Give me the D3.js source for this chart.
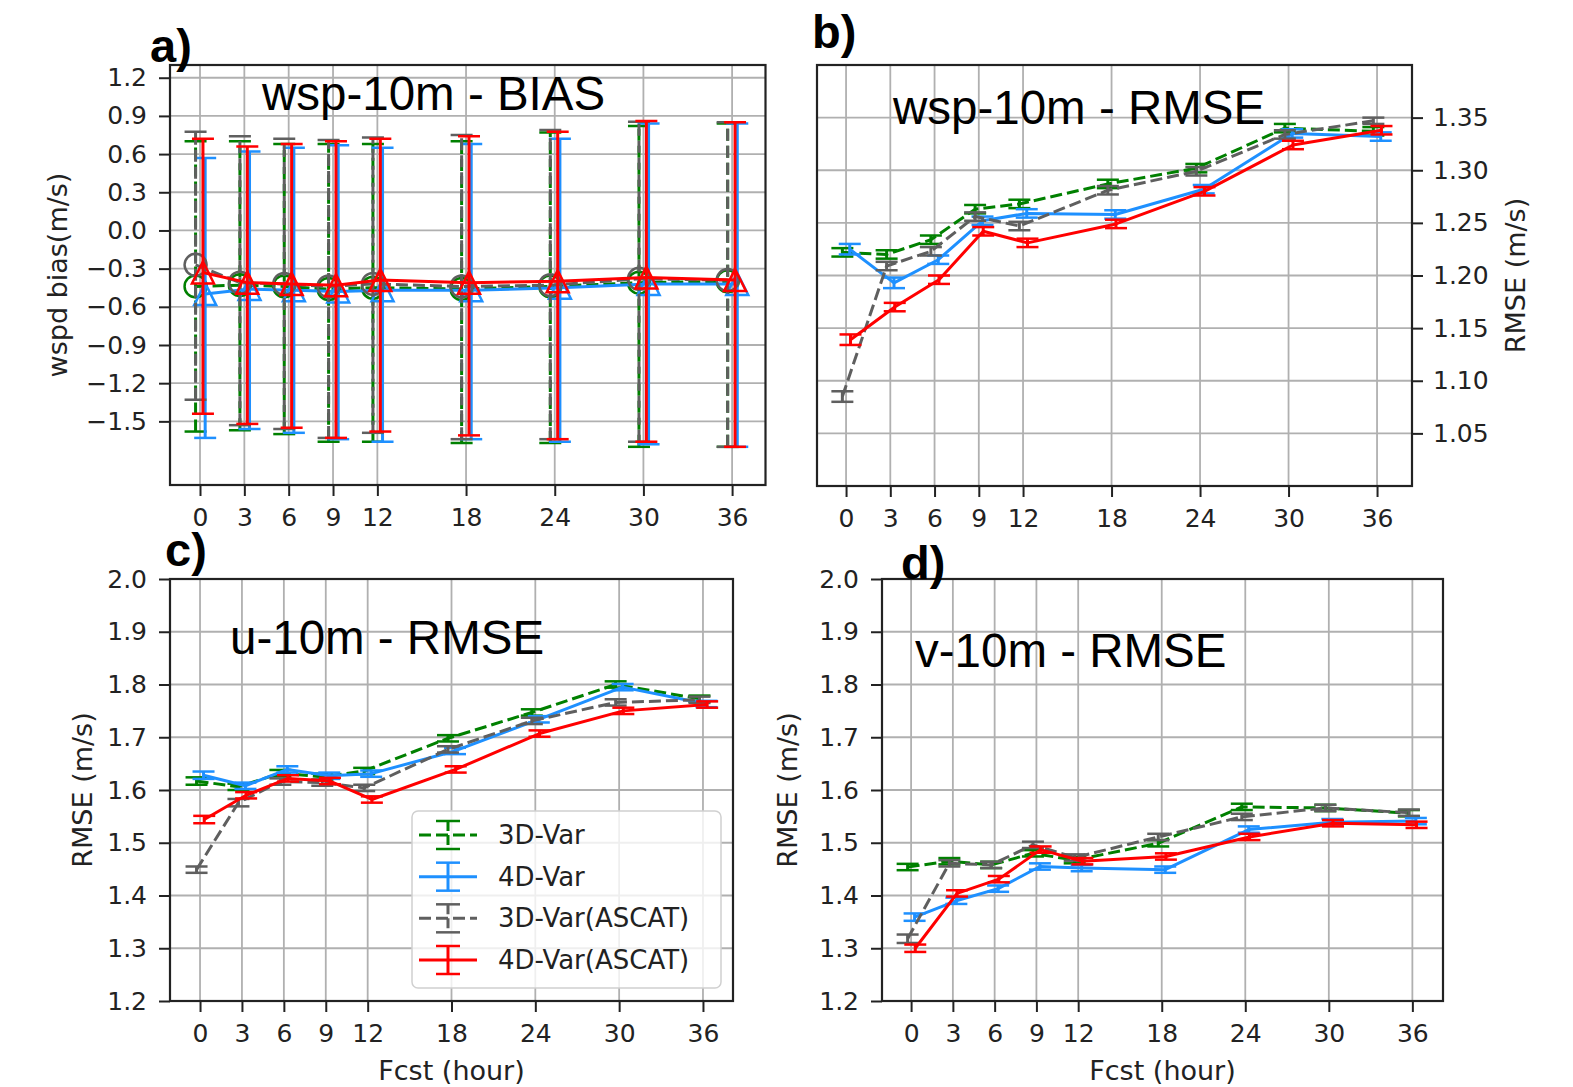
<!DOCTYPE html>
<html>
<head>
<meta charset="utf-8">
<script src="https://cdn.jsdelivr.net/npm/d3@7"></script>
<style>
  html, body { margin: 0; padding: 0; background: #ffffff; }
  svg { display: block; }
</style>
</head>
<body>
<script>
// ---------------- DATA ----------------
const hours = [0, 3, 6, 9, 12, 18, 24, 30, 36];
const seriesNames = ["3D-Var", "4D-Var", "3D-Var(ASCAT)", "4D-Var(ASCAT)"];
const seriesColors = ["#008000", "#1e90ff", "#5f5f5f", "#ff0000"];
const seriesDashed = [true, false, true, false];
const seriesMarkers = ["circle", "triangle", "circle", "triangle"];
const biasOffsets = [-0.3, 0.35, -0.3, 0.2];
const rmseOffsets = [-0.25, 0.25, -0.25, 0.3];

// a) wsp-10m BIAS: mean, upper and lower error-bar ends
const biasMean3D     = [-0.44, -0.43, -0.44, -0.46, -0.45, -0.46, -0.44, -0.41, -0.40];
const biasMean4D     = [-0.50, -0.46, -0.47, -0.48, -0.47, -0.47, -0.45, -0.42, -0.42];
const biasMean3DA    = [-0.27, -0.41, -0.42, -0.44, -0.42, -0.44, -0.43, -0.38, -0.39];
const biasMean4DA    = [-0.33, -0.41, -0.42, -0.43, -0.39, -0.41, -0.40, -0.37, -0.39];
const biasHi3D       = [0.70, 0.70, 0.68, 0.68, 0.68, 0.70, 0.77, 0.82, 0.84];
const biasHi4D       = [0.57, 0.62, 0.65, 0.67, 0.65, 0.68, 0.72, 0.84, 0.84];
const biasHi3DA      = [0.775, 0.74, 0.72, 0.71, 0.73, 0.75, 0.79, 0.855, 0.85];
const biasHi4DA      = [0.72, 0.66, 0.68, 0.70, 0.72, 0.74, 0.775, 0.86, 0.85];
const biasLo3D       = [-1.58, -1.57, -1.60, -1.66, -1.66, -1.67, -1.67, -1.70, -1.70];
const biasLo4D       = [-1.63, -1.56, -1.59, -1.64, -1.66, -1.64, -1.66, -1.68, -1.70];
const biasLo3DA      = [-1.33, -1.53, -1.56, -1.63, -1.59, -1.64, -1.64, -1.66, -1.70];
const biasLo4DA      = [-1.44, -1.52, -1.55, -1.63, -1.58, -1.61, -1.64, -1.66, -1.70];

// b) wsp-10m RMSE
const wspRmse3D  = [1.222, 1.220, 1.234, 1.263, 1.268, 1.287, 1.302, 1.340, 1.337];
const wspRmse4D  = [1.225, 1.193, 1.215, 1.252, 1.259, 1.258, 1.282, 1.335, 1.332];
const wspRmse3DA = [1.085, 1.209, 1.223, 1.256, 1.247, 1.281, 1.299, 1.334, 1.347];
const wspRmse4DA = [1.139, 1.170, 1.196, 1.242, 1.231, 1.249, 1.280, 1.324, 1.338];
const wspErr3D   = [0.004, 0.004, 0.004, 0.004, 0.004, 0.004, 0.004, 0.004, 0.004];
const wspErr4D   = [0.005, 0.005, 0.004, 0.004, 0.004, 0.004, 0.004, 0.004, 0.004];
const wspErr3DA  = [0.005, 0.004, 0.004, 0.004, 0.004, 0.004, 0.004, 0.004, 0.003];
const wspErr4DA  = [0.005, 0.004, 0.004, 0.004, 0.004, 0.004, 0.004, 0.004, 0.004];

// c) u-10m RMSE
const uRmse3D  = [1.617, 1.606, 1.632, 1.625, 1.636, 1.698, 1.747, 1.800, 1.773];
const uRmse4D  = [1.628, 1.608, 1.639, 1.627, 1.631, 1.674, 1.734, 1.795, 1.763];
const uRmse3DA = [1.449, 1.576, 1.616, 1.614, 1.604, 1.677, 1.731, 1.766, 1.771];
const uRmse4DA = [1.544, 1.590, 1.622, 1.617, 1.582, 1.639, 1.707, 1.750, 1.762];
const uErr3D   = [0.007, 0.006, 0.006, 0.006, 0.006, 0.006, 0.006, 0.006, 0.006];
const uErr4D   = [0.007, 0.006, 0.006, 0.006, 0.006, 0.006, 0.006, 0.006, 0.006];
const uErr3DA  = [0.006, 0.007, 0.006, 0.006, 0.006, 0.006, 0.006, 0.006, 0.006];
const uErr4DA  = [0.007, 0.006, 0.006, 0.006, 0.006, 0.006, 0.006, 0.006, 0.006];

// d) v-10m RMSE
const vRmse3D  = [1.454, 1.465, 1.458, 1.480, 1.467, 1.499, 1.568, 1.566, 1.556];
const vRmse4D  = [1.359, 1.390, 1.413, 1.455, 1.452, 1.449, 1.525, 1.539, 1.541];
const vRmse3DA = [1.318, 1.461, 1.458, 1.496, 1.472, 1.511, 1.549, 1.566, 1.557];
const vRmse4DA = [1.300, 1.404, 1.431, 1.487, 1.465, 1.474, 1.511, 1.537, 1.534];
const vErr3D   = [0.006, 0.006, 0.006, 0.006, 0.006, 0.006, 0.006, 0.006, 0.006];
const vErr4D   = [0.007, 0.006, 0.006, 0.006, 0.006, 0.006, 0.006, 0.006, 0.006];
const vErr3DA  = [0.008, 0.006, 0.006, 0.006, 0.006, 0.006, 0.006, 0.006, 0.006];
const vErr4DA  = [0.007, 0.006, 0.006, 0.006, 0.006, 0.006, 0.006, 0.006, 0.006];

// tick labels
const biasYTicks = [1.2, 0.9, 0.6, 0.3, 0.0, -0.3, -0.6, -0.9, -1.2, -1.5];
const wspYTicks  = [1.05, 1.10, 1.15, 1.20, 1.25, 1.30, 1.35];
const uvYTicks   = [1.2, 1.3, 1.4, 1.5, 1.6, 1.7, 1.8, 1.9, 2.0];

// ---------------- DRAWING ----------------
const W = 1573, H = 1087;
const svg = d3.select("body").append("svg").attr("width", W).attr("height", H);

const TICK_FONT = "'DejaVu Sans', sans-serif";
const TITLE_FONT = "'Liberation Sans', Arial, sans-serif";
const DASH = "12,5";
const GRID = "#b0b0b0";
const INK = "#222222";

function buildSeries(means, lows, highs) {
  return means.map((m, i) => ({ mean: m, lo: lows[i], hi: highs[i], i }));
}
function symErr(means, errs) {
  return buildSeries(means, means.map((m, k) => m - errs[k]), means.map((m, k) => m + errs[k]));
}

const panels = [
  {
    left: 170, right: 765.5, top: 65, bottom: 485,
    xDomain: [-2.03, 38.26], yDomain: [-2.0, 1.3],
    yTicks: biasYTicks, yFmt: d3.format(".1f"), ySide: "left",
    series: [
      buildSeries(biasMean3D, biasLo3D, biasHi3D),
      buildSeries(biasMean4D, biasLo4D, biasHi4D),
      buildSeries(biasMean3DA, biasLo3DA, biasHi3DA),
      buildSeries(biasMean4DA, biasLo4DA, biasHi4DA)
    ],
    offsets: biasOffsets, markers: true,
    title: "wsp-10m - BIAS", titleX: 262, titleY: 110,
    ylabel: "wspd bias(m/s)", ylabelX: 57,
    letter: "a)", letterX: 150, letterY: 62, xlabel: false, legend: false
  },
  {
    left: 817, right: 1412, top: 65, bottom: 486,
    xDomain: [-1.97, 38.37], yDomain: [1.0, 1.4],
    yTicks: wspYTicks, yFmt: d3.format(".2f"), ySide: "right",
    series: [
      symErr(wspRmse3D, wspErr3D), symErr(wspRmse4D, wspErr4D),
      symErr(wspRmse3DA, wspErr3DA), symErr(wspRmse4DA, wspErr4DA)
    ],
    offsets: rmseOffsets, markers: false,
    title: "wsp-10m - RMSE", titleX: 893, titleY: 124,
    ylabel: "RMSE (m/s)", ylabelX: 1515,
    letter: "b)", letterX: 812, letterY: 48, xlabel: false, legend: false
  },
  {
    left: 170, right: 733, top: 579, bottom: 1001,
    xDomain: [-2.15, 38.15], yDomain: [1.2, 2.0],
    yTicks: uvYTicks, yFmt: d3.format(".1f"), ySide: "left",
    series: [
      symErr(uRmse3D, uErr3D), symErr(uRmse4D, uErr4D),
      symErr(uRmse3DA, uErr3DA), symErr(uRmse4DA, uErr4DA)
    ],
    offsets: rmseOffsets, markers: false,
    title: "u-10m - RMSE", titleX: 230, titleY: 654,
    ylabel: "RMSE (m/s)", ylabelX: 82,
    letter: "c)", letterX: 165, letterY: 566, xlabel: true, legend: true
  },
  {
    left: 882, right: 1443, top: 579, bottom: 1001,
    xDomain: [-2.09, 38.2], yDomain: [1.2, 2.0],
    yTicks: uvYTicks, yFmt: d3.format(".1f"), ySide: "left",
    series: [
      symErr(vRmse3D, vErr3D), symErr(vRmse4D, vErr4D),
      symErr(vRmse3DA, vErr3DA), symErr(vRmse4DA, vErr4DA)
    ],
    offsets: rmseOffsets, markers: false,
    title: "v-10m - RMSE", titleX: 915, titleY: 667,
    ylabel: "RMSE (m/s)", ylabelX: 787,
    letter: "d)", letterX: 901, letterY: 579, xlabel: true, legend: false
  }
];

function trianglePath(r) {
  return `M0,${-r}L${r},${r}L${-r},${r}Z`;
}

function styleAxis(sel) {
  sel.select(".domain").remove();
  sel.selectAll(".tick line").attr("stroke", INK).attr("stroke-width", 2);
  sel.selectAll(".tick text")
    .attr("fill", INK)
    .style("font-family", TICK_FONT)
    .style("font-size", "25px");
}

panels.forEach(p => {
  const g = svg.append("g");
  const x = d3.scaleLinear().domain(p.xDomain).range([p.left, p.right]);
  const y = d3.scaleLinear().domain(p.yDomain).range([p.bottom, p.top]);

  // grid
  g.append("g").selectAll("line").data(hours).join("line")
    .attr("x1", d => x(d)).attr("x2", d => x(d))
    .attr("y1", p.top).attr("y2", p.bottom)
    .attr("stroke", GRID).attr("stroke-width", 1.8);
  g.append("g").selectAll("line").data(p.yTicks).join("line")
    .attr("x1", p.left).attr("x2", p.right)
    .attr("y1", d => y(d)).attr("y2", d => y(d))
    .attr("stroke", GRID).attr("stroke-width", 1.8);

  // axes
  const xAxis = d3.axisBottom(x).tickValues(hours).tickSizeInner(11).tickSizeOuter(0)
    .tickPadding(12).tickFormat(d3.format("d"));
  g.append("g").attr("transform", `translate(0,${p.bottom})`).call(xAxis).call(styleAxis);

  if (p.ySide === "left") {
    const yAxis = d3.axisLeft(y).tickValues(p.yTicks).tickSizeInner(11).tickSizeOuter(0)
      .tickPadding(12).tickFormat(p.yFmt);
    g.append("g").attr("transform", `translate(${p.left},0)`).call(yAxis).call(styleAxis);
  } else {
    const yAxis = d3.axisRight(y).tickValues(p.yTicks).tickSizeInner(11).tickSizeOuter(0)
      .tickPadding(10).tickFormat(p.yFmt);
    g.append("g").attr("transform", `translate(${p.right},0)`).call(yAxis).call(styleAxis);
  }

  // clip region for data
  const clipId = "clip" + p.letter[0];
  svg.append("clipPath").attr("id", clipId).append("rect")
    .attr("x", p.left).attr("y", p.top)
    .attr("width", p.right - p.left).attr("height", p.bottom - p.top);
  const dg = g.append("g").attr("clip-path", `url(#${clipId})`);

  // series
  p.series.forEach((s, si) => {
    const color = seriesColors[si];
    const dash = seriesDashed[si] ? DASH : null;
    const off = p.offsets[si];
    const sg = dg.append("g");
    const line = d3.line().x(d => x(hours[d.i] + off)).y(d => y(d.mean));
    sg.append("path").datum(s).attr("d", line)
      .attr("fill", "none").attr("stroke", color).attr("stroke-width", 3)
      .attr("stroke-dasharray", dash).attr("stroke-linejoin", "round");

    // error bars
    sg.selectAll("line.eb").data(s).join("line").attr("class", "eb")
      .attr("x1", d => x(hours[d.i] + off)).attr("x2", d => x(hours[d.i] + off))
      .attr("y1", d => y(d.lo)).attr("y2", d => y(d.hi))
      .attr("stroke", color).attr("stroke-width", 3).attr("stroke-dasharray", dash);
    ["lo", "hi"].forEach(k => {
      sg.selectAll("line.cap" + k).data(s).join("line").attr("class", "cap" + k)
        .attr("x1", d => x(hours[d.i] + off) - 11).attr("x2", d => x(hours[d.i] + off) + 11)
        .attr("y1", d => y(d[k])).attr("y2", d => y(d[k]))
        .attr("stroke", color).attr("stroke-width", 2.5);
    });

    if (p.markers) {
      if (seriesMarkers[si] === "circle") {
        sg.selectAll("circle").data(s).join("circle")
          .attr("cx", d => x(hours[d.i] + off)).attr("cy", d => y(d.mean))
          .attr("r", 11).attr("fill", "none").attr("stroke", color).attr("stroke-width", 2.5);
      } else {
        sg.selectAll("path.mk").data(s).join("path").attr("class", "mk")
          .attr("transform", d => `translate(${x(hours[d.i] + off)},${y(d.mean)})`)
          .attr("d", trianglePath(11))
          .attr("fill", "none").attr("stroke", color).attr("stroke-width", 2.5)
          .attr("stroke-linejoin", "miter");
      }
    }
  });

  // frame
  g.append("rect").attr("x", p.left).attr("y", p.top)
    .attr("width", p.right - p.left).attr("height", p.bottom - p.top)
    .attr("fill", "none").attr("stroke", INK).attr("stroke-width", 2.2);

  // title inside
  g.append("text").attr("x", p.titleX).attr("y", p.titleY)
    .style("font-family", TITLE_FONT).style("font-size", "47.5px")
    .attr("fill", "#000").text(p.title);

  // y label
  const cy = (p.top + p.bottom) / 2;
  g.append("text")
    .attr("transform", `translate(${p.ylabelX},${cy}) rotate(-90)`)
    .attr("text-anchor", "middle").attr("dominant-baseline", "central")
    .style("font-family", TICK_FONT).style("font-size", "27px")
    .attr("fill", INK).text(p.ylabel);

  // x label
  if (p.xlabel) {
    g.append("text").attr("x", (p.left + p.right) / 2).attr("y", 1080)
      .attr("text-anchor", "middle")
      .style("font-family", TICK_FONT).style("font-size", "27px")
      .attr("fill", INK).text("Fcst (hour)");
  }

  // panel letter
  svg.append("text").attr("x", p.letterX).attr("y", p.letterY)
    .style("font-family", TITLE_FONT).style("font-size", "47px").style("font-weight", "bold")
    .attr("fill", "#000").text(p.letter);

  // legend
  if (p.legend) {
    const lg = g.append("g");
    lg.append("rect").attr("x", 412).attr("y", 811).attr("width", 309).attr("height", 177)
      .attr("rx", 6).attr("fill", "#ffffff").attr("fill-opacity", 0.8)
      .attr("stroke", "#d0d0d0").attr("stroke-width", 1.5);
    const rowY = d3.scalePoint().domain(seriesNames).range([835, 960]);
    seriesNames.forEach((name, si) => {
      const yy = rowY(name);
      const color = seriesColors[si];
      const dash = seriesDashed[si] ? DASH : null;
      lg.append("line").attr("x1", 419).attr("x2", 477).attr("y1", yy).attr("y2", yy)
        .attr("stroke", color).attr("stroke-width", 3).attr("stroke-dasharray", dash);
      lg.append("line").attr("x1", 448).attr("x2", 448).attr("y1", yy - 14).attr("y2", yy + 14)
        .attr("stroke", color).attr("stroke-width", 3).attr("stroke-dasharray", seriesDashed[si] ? "10,4" : null);
      [yy - 14, yy + 14].forEach(cyy => {
        lg.append("line").attr("x1", 436).attr("x2", 460).attr("y1", cyy).attr("y2", cyy)
          .attr("stroke", color).attr("stroke-width", 2.5);
      });
      lg.append("text").attr("x", 498).attr("y", yy).attr("dominant-baseline", "central")
        .style("font-family", TICK_FONT).style("font-size", "26px")
        .attr("fill", INK).text(name);
    });
  }
});
</script>
</body>
</html>
